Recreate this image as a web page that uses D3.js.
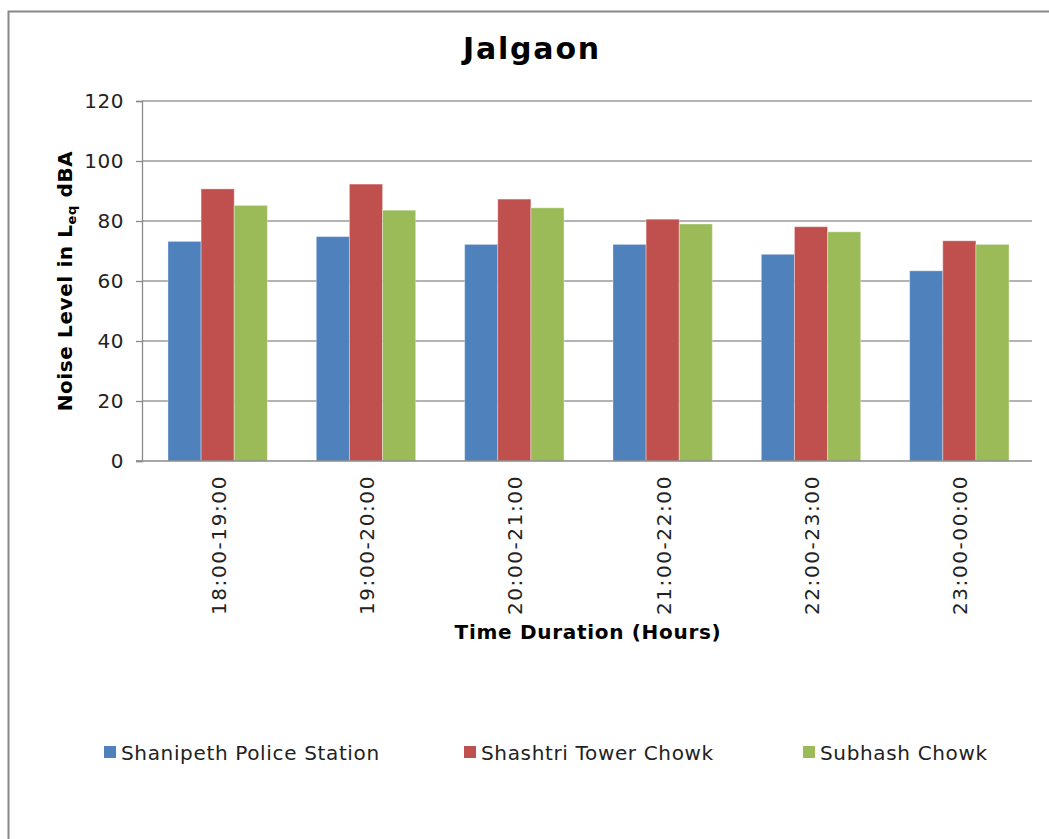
<!DOCTYPE html>
<html><head><meta charset="utf-8">
<script src="https://cdn.jsdelivr.net/npm/d3@7"></script>
<style>body{margin:0;background:#fff}svg{display:block}text{font-family:"DejaVu Sans",Verdana,sans-serif}</style>
</head><body>
<script>
const categories = ["18:00-19:00","19:00-20:00","20:00-21:00","21:00-22:00","22:00-23:00","23:00-00:00"];
const seriesNames = ["Shanipeth Police Station","Shashtri Tower Chowk","Subhash Chowk"];
const shanipeth = [73.2, 74.8, 72.2, 72.2, 68.9, 63.4];
const shashtri  = [90.7, 92.3, 87.3, 80.6, 78.1, 73.4];
const subhash   = [85.2, 83.6, 84.4, 79.0, 76.4, 72.2];
const yTicks = [0,20,40,60,80,100,120];
const colors = ["#4F81BD","#C0504D","#9BBB59"];
const seriesData = [shanipeth, shashtri, subhash];

const W = 1049, H = 839;
const svg = d3.select("body").append("svg").attr("width", W).attr("height", H);
svg.append("rect").attr("x",8.5).attr("y",11.5).attr("width",1200).attr("height",1000)
  .attr("fill","#fff").attr("stroke","#888").attr("stroke-width",2);

const pL = 142, pR = 1032, pT = 101, pB = 461;
const x0 = d3.scaleBand().domain(categories).range([pL,pR+3]).paddingInner(0.33).paddingOuter(0.175);
const x1 = d3.scaleBand().domain(d3.range(3)).range([0,x0.bandwidth()]);
const y = d3.scaleLinear().domain([0,120]).range([pB,pT]);

// gridlines
svg.append("g").selectAll("line").data(yTicks.filter(d=>d>0)).join("line")
  .attr("x1",pL).attr("x2",pR).attr("y1",d=>y(d)).attr("y2",d=>y(d))
  .attr("stroke","#9a9a9a").attr("stroke-width",1.3);

// y axis
const ya = svg.append("g").attr("transform",`translate(${pL},0)`)
  .call(d3.axisLeft(y).tickValues(yTicks).tickSize(6).tickPadding(12));
ya.select(".domain").attr("stroke","#8a8a8a").attr("stroke-width",1.3);
ya.selectAll(".tick line").attr("stroke","#8a8a8a").attr("stroke-width",1.3);
ya.selectAll(".tick text").attr("font-size",20).attr("letter-spacing",0.5).attr("fill","#222")
  .attr("font-family","DejaVu Sans, Verdana, sans-serif");

// bars
const g = svg.append("g");
categories.forEach((c,i)=>{
  seriesData.forEach((s,j)=>{
    g.append("rect").attr("x",x0(c)+x1(j)).attr("width",x1.bandwidth())
      .attr("y",y(s[i])).attr("height",y(0)-y(s[i]))
      .attr("fill",colors[j]).attr("stroke","rgba(255,255,255,0.35)").attr("stroke-width",1);
  });
});

// x axis line
svg.append("line").attr("x1",pL-6).attr("x2",pR).attr("y1",pB).attr("y2",pB)
  .attr("stroke","#8a8a8a").attr("stroke-width",1.3);

// category labels
svg.append("g").selectAll("text").data(categories).join("text")
  .attr("transform",d=>`translate(${x0(d)+x0.bandwidth()/2+8},475) rotate(-90)`)
  .attr("text-anchor","end").attr("font-size",20).attr("letter-spacing",1.6).attr("fill","#222").text(d=>d);

// title
svg.append("text").attr("x",532).attr("y",59).attr("text-anchor","middle")
  .attr("font-size",30).attr("letter-spacing",1.8).attr("font-weight","bold").attr("fill","#000").text("Jalgaon");

// x title
svg.append("text").attr("x",588).attr("y",639).attr("text-anchor","middle")
  .attr("font-size",20).attr("letter-spacing",0.7).attr("font-weight","bold").attr("fill","#000").text("Time Duration (Hours)");

// y title
const yt = svg.append("text").attr("transform","translate(72,281) rotate(-90)").attr("text-anchor","middle")
  .attr("font-size",20).attr("letter-spacing",0.6).attr("font-weight","bold").attr("fill","#000");
yt.append("tspan").text("Noise Level in L");
yt.append("tspan").attr("font-size",13).attr("dy",4).text("eq");
yt.append("tspan").attr("dy",-4).text(" dBA");

// legend
const legX = [104, 464, 803];
seriesNames.forEach((n,i)=>{
  svg.append("rect").attr("x",legX[i]).attr("y",746).attr("width",12).attr("height",12).attr("fill",colors[i]);
  svg.append("text").attr("x",legX[i]+17).attr("y",760).attr("font-size",20).attr("letter-spacing",0.65)
    .attr("fill","#222").text(n);
});
</script>
</body></html>
